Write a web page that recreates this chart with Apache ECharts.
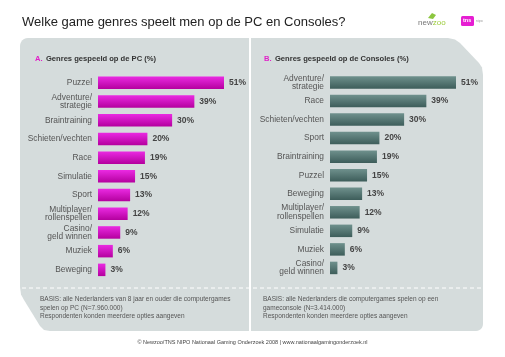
<!DOCTYPE html>
<html><head><meta charset="utf-8">
<script src="https://cdn.jsdelivr.net/npm/echarts@6/dist/echarts.min.js"></script>
<style>html,body{margin:0;padding:0;background:#fff}#c{width:505px;height:357px}</style>
</head><body><div id="c"></div>
<script>
const title = 'Welke game genres speelt men op de PC en Consoles?';
const pcTitle = 'Genres gespeeld op de PC (%)';
const consoleTitle = 'Genres gespeeld op de Consoles (%)';
const pcCategories = ['Puzzel','Adventure/\nstrategie','Braintraining','Schieten/vechten','Race','Simulatie','Sport','Multiplayer/\nrollenspellen','Casino/\ngeld winnen','Muziek','Beweging'];
const pcValues = [51,39,30,20,19,15,13,12,9,6,3];
const consoleCategories = ['Adventure/\nstrategie','Race','Schieten/vechten','Sport','Braintraining','Puzzel','Beweging','Multiplayer/\nrollenspellen','Simulatie','Muziek','Casino/\ngeld winnen'];
const consoleValues = [51,39,30,20,19,15,13,12,9,6,3];
const pcBasis = ['BASIS: alle Nederlanders van 8 jaar en ouder die computergames','spelen op PC (N=7.960.000)','Respondenten konden meerdere opties aangeven'];
const consoleBasis = ['BASIS: alle Nederlanders die computergames spelen op een','gameconsole (N=3.414.000)','Respondenten konden meerdere opties aangeven'];
const footer = '© Newzoo/TNS NIPO Nationaal Gaming Onderzoek 2008 | www.nationaalgamingonderzoek.nl';

const FONT = 'Liberation Sans, Arial, sans-serif';
const chart = echarts.init(document.getElementById('c'), null, {renderer:'canvas'});
const grad = (a,b)=>new echarts.graphic.LinearGradient(0,0,0,1,[{offset:0,color:a},{offset:1,color:b}]);
const yAx = (gi, data)=>({type:'category', gridIndex:gi, data, inverse:true,
  axisLine:{show:false}, axisTick:{show:false}, splitLine:{show:false},
  axisLabel:{fontSize:8.4, color:'#555', margin:6, lineHeight:8.5, fontFamily:FONT}});
const xAx = gi=>({type:'value', gridIndex:gi, min:0, max:51, show:false});
const lbl = {show:true, position:'right', distance:5, formatter:'{c}%', fontSize:8.5, fontWeight:'bold', color:'#444', fontFamily:FONT};

const basisText = (x, lines)=>({type:'text', left:x, top:295, style:{text:lines.join('\n'), fontSize:6.5, lineHeight:8.5, fill:'#555', fontFamily:FONT}});

function arcPts(cx, cy, r, a0, a1){const p=[];for(let i=0;i<=6;i++){const a=a0+(a1-a0)*i/6;p.push([cx+r*Math.cos(a),cy+r*Math.sin(a)]);}return p;}
const D=Math.PI/180;
const panelPts = [].concat(
  arcPts(28,46,8,180*D,270*D),
  [[448,38]],
  [[455,39.5],[460,43]],
  [[479,63]],
  [[482,67.5],[483,75]],
  arcPts(476,324,7,0,90*D),
  [[50,331],[44,330],[40,326]],
  [[24,300],[21,294.5],[20,287]]
);

chart.setOption({
  animation:false,
  backgroundColor:'#ffffff',
  grid:[{left:98, top:73.5, width:126, height:205.7},{left:330, top:73.2, width:126, height:204}],
  xAxis:[xAx(0), xAx(1)],
  yAxis:[yAx(0,pcCategories), yAx(1,consoleCategories)],
  series:[
    {type:'bar', xAxisIndex:0, yAxisIndex:0, data:pcValues, barWidth:12.5,
     itemStyle:{color:grad('#ea2ae2','#b4009e')}, label:lbl},
    {type:'bar', xAxisIndex:1, yAxisIndex:1, data:consoleValues, barWidth:12.5,
     itemStyle:{color:grad('#6f918d','#3d5d5a')}, label:lbl}
  ],
  graphic:[
    {type:'polygon', z:-10, shape:{points:panelPts}, style:{fill:'#d5dcdc'}},
    {type:'line', z:-5, shape:{x1:250,y1:38,x2:250,y2:331}, style:{stroke:'#ffffff', lineWidth:2}},
    {type:'line', z:-5, shape:{x1:22,y1:288,x2:483,y2:288}, style:{stroke:'#ffffff', lineWidth:1, lineDash:[4,3]}},
    {type:'text', left:22, top:16, style:{text:title, fontSize:13, fill:'#222', fontFamily:FONT}},
    {type:'text', left:35, top:53, style:{rich:{a:{fill:'#e020c8',fontSize:7.6,fontWeight:'bold',fontFamily:FONT},b:{fill:'#333',fontSize:7.6,fontWeight:'bold',fontFamily:FONT}}, text:'{a|A.} {b|'+pcTitle+'}'}},
    {type:'text', left:264, top:53, style:{rich:{a:{fill:'#e020c8',fontSize:7.6,fontWeight:'bold',fontFamily:FONT},b:{fill:'#333',fontSize:7.6,fontWeight:'bold',fontFamily:FONT}}, text:'{a|B.} {b|'+consoleTitle+'}'}},
    basisText(40, pcBasis),
    basisText(263, consoleBasis),
    {type:'text', left:'center', top:339, style:{text:footer, fontSize:5.5, fill:'#444', fontFamily:FONT}},
    {type:'text', left:418, top:19, style:{rich:{n:{fill:'#777',fontSize:8,fontFamily:FONT},z:{fill:'#9ccc3c',fontSize:8,fontFamily:FONT}}, text:'{n|new}{z|zoo}'}},
    {type:'polygon', shape:{points:[[428,18],[432,13],[436,15],[433,19]]}, style:{fill:'#8cc63f'}},
    {type:'rect', shape:{x:461,y:16,width:13,height:10,r:1.5}, style:{fill:'#e61ed2'}},
    {type:'text', left:463, top:17.5, style:{text:'tns', fontSize:5.5, fill:'#fff', fontWeight:'bold', fontFamily:FONT}},
    {type:'text', left:476, top:19, style:{text:'nipo', fontSize:3.5, fill:'#999', fontFamily:FONT}}
  ]
});
</script></body></html>
